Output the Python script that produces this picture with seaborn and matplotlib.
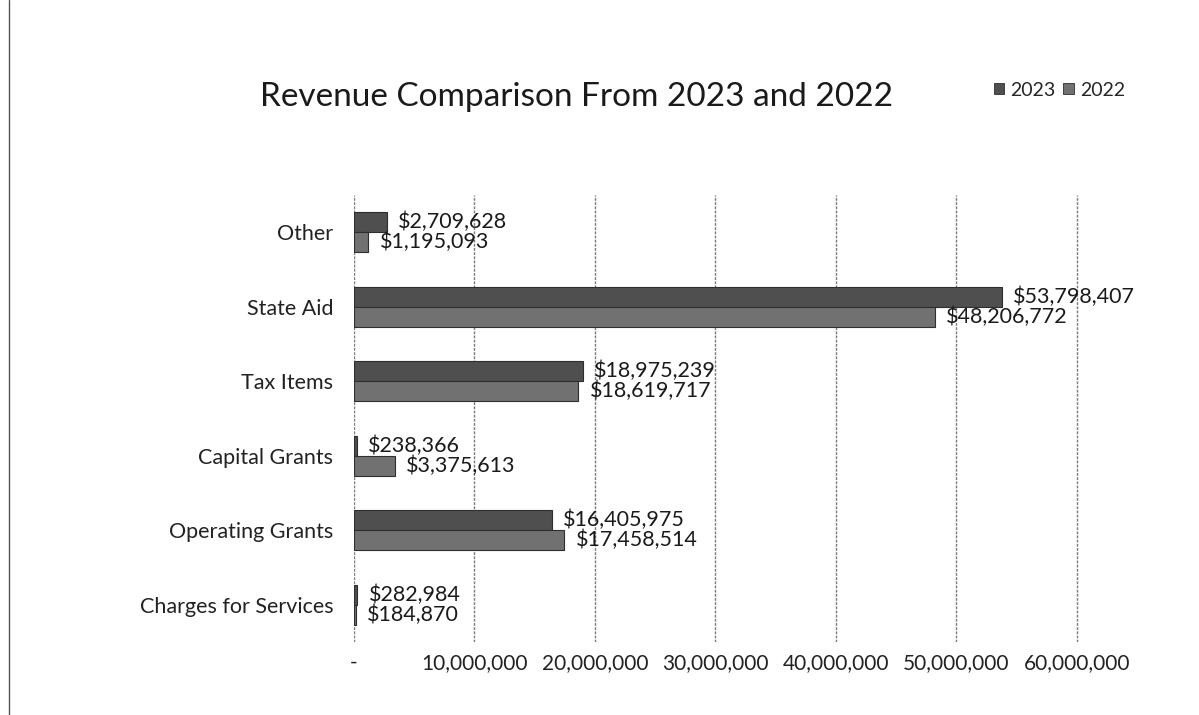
import matplotlib
matplotlib.use("Agg")
import matplotlib.pyplot as plt
from matplotlib.patches import Patch
from matplotlib.lines import Line2D
import seaborn as sns
import pandas as pd

categories = ["Other", "State Aid", "Tax Items", "Capital Grants",
              "Operating Grants", "Charges for Services"]
rev_2023 = [2709628, 53798407, 18975239, 238366, 16405975, 282984]
rev_2022 = [1195093, 48206772, 18619717, 3375613, 17458514, 184870]
years = ["2023", "2022"]
x_ticks = [0, 10000000, 20000000, 30000000, 40000000, 50000000, 60000000]
x_tick_labels = ["-", "10,000,000", "20,000,000", "30,000,000",
                 "40,000,000", "50,000,000", "60,000,000"]
title = "Revenue Comparison From 2023 and 2022"

colors = {"2023": "#4f4f4f", "2022": "#717171"}

sns.set_theme(style="white")
plt.rcParams["font.family"] = ["Lato", "DejaVu Sans"]

df = pd.DataFrame({
    "Category": categories * 2,
    "Year": ["2023"] * len(categories) + ["2022"] * len(categories),
    "Revenue": rev_2023 + rev_2022,
})

fig = plt.figure(figsize=(11.99, 7.15), dpi=100)
xmax = 60200000
left_px, right_px = 354, 354 + (1077 - 354) * xmax / 60000000
ax = fig.add_axes([left_px / 1199, 1 - 642 / 715, (right_px - left_px) / 1199, (642 - 195) / 715])

sns.barplot(data=df, x="Revenue", y="Category", hue="Year", order=categories,
            hue_order=years, palette=colors, orient="h", width=0.54, gap=0,
            edgecolor="#2e2e2e", linewidth=0.8, legend=False, ax=ax)

ax.set_xlim(0, xmax)
ax.set_xticks(x_ticks)
ax.set_xticklabels(x_tick_labels, fontsize=15, color="#222222")
ax.set_xlabel("")
ax.set_ylabel("")
ax.tick_params(axis="x", length=0, pad=8)
ax.tick_params(axis="y", length=0, pad=15, labelsize=15.5, labelcolor="#222222")

for s in ax.spines.values():
    s.set_visible(False)
ax.set_axisbelow(True)
ax.xaxis.grid(True, color="#7a7a7a", linewidth=1.0, linestyle=(0, (2, 1)))
ax.yaxis.grid(False)

# Value labels just past the end of each bar
for container, vals in zip(ax.containers, [rev_2023, rev_2022]):
    for bar, v in zip(container, vals):
        ax.annotate(f"${v:,.0f}", xy=(bar.get_width(), bar.get_y() + bar.get_height() / 2),
                    xytext=(8, 0), textcoords="offset points", ha="left", va="center",
                    fontsize=15.5, color="#1a1a1a", annotation_clip=False)

fig.text(577 / 1199, 1 - 97 / 715, title, ha="center", va="center",
         fontsize=24, color="#1a1a1a")

handles = [Patch(facecolor=colors[y], edgecolor="#2e2e2e", linewidth=0.6) for y in years]
fig.legend(handles, years, loc="center right", bbox_to_anchor=(1125 / 1199, 1 - 90 / 715),
           ncol=2, frameon=False, fontsize=14, handlelength=0.55, handleheight=0.55,
           handletextpad=0.3, columnspacing=0.4, borderaxespad=0, borderpad=0)

# page edge line on the left
fig.add_artist(Line2D([9 / 1199, 9 / 1199], [0, 1], transform=fig.transFigure,
                      color="#555555", linewidth=1.0))

fig.savefig("out.png", dpi=100)
